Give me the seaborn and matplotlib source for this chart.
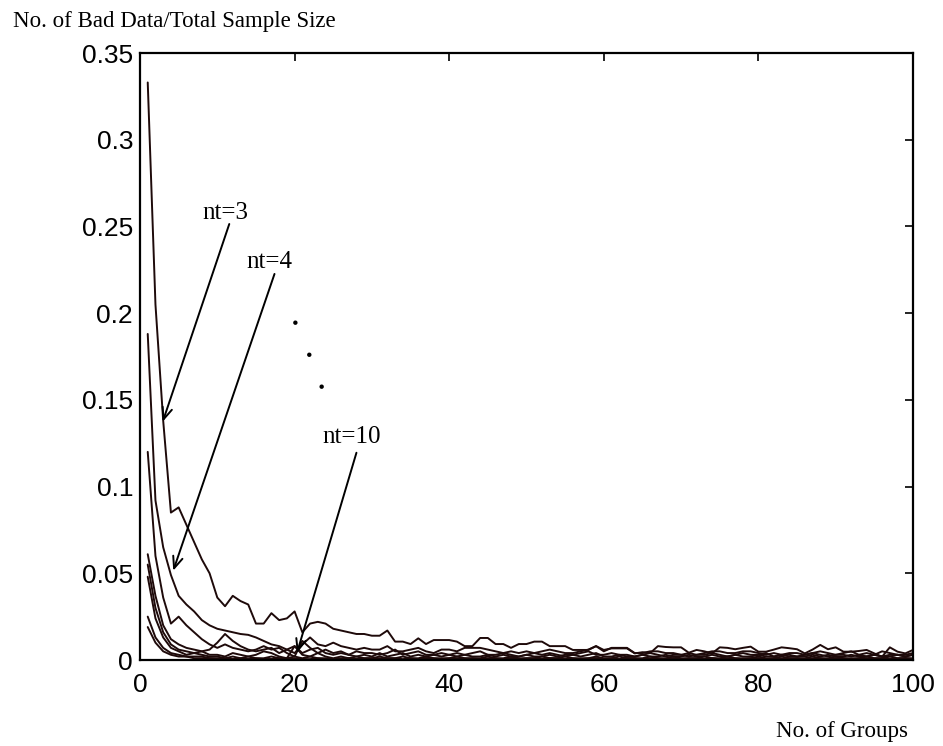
import numpy as np
import pandas as pd
import matplotlib
matplotlib.use('Agg')
import matplotlib.pyplot as plt
import seaborn as sns

# ---------------- data ----------------
groups = list(range(1, 101))
nt_names = ['nt=3', 'nt=4', 'nt=5', 'nt=6', 'nt=7', 'nt=8', 'nt=9', 'nt=10']

nt3 = [.333, .205, .138, .085, .088, .078, .068, .058, .050, .036,
       .031, .037, .034, .032, .021, .021, .027, .023, .024, .028,
       .016, .021, .022, .021, .018, .017, .016, .015, .015, .014,
       .014, .017, .0106, .0106, .0092, .0125, .0092, .0115, .0115, .0115,
       .0106, .008, .008, .0127, .0127, .0092, .0092, .007, .0092, .0092,
       .0106, .0106, .008, .008, .008, .0058, .0058, .0058, .008, .0058,
       .0067, .0067, .0067, .0038, .0045, .004, .008, .0075, .0073, .0073,
       .0042, .0058, .005, .0038, .0073, .007, .0062, .007, .0077, .0048,
       .0048, .006, .0073, .0068, .0062, .0038, .006, .0087, .0062, .0073,
       .0048, .0048, .0052, .0058, .0038, .0019, .0073, .0048, .0038, .0058]

nt4 = [.188, .092, .065, .049, .037, .032, .028, .023, .020, .018,
       .017, .016, .015, .0145, .013, .011, .009, .008, .006, .004,
       .009, .013, .009, .008, .010, .008, .007, .006, .007, .006,
       .006, .008, .005, .005, .006, .007, .005, .004, .006, .006,
       .005, .007, .007, .007, .006, .005, .004, .005, .004, .005,
       .004, .005, .006, .005, .004, .004, .005, .006, .008, .005,
       .007, .007, .007, .004, .004, .005, .005, .004, .004, .003,
       .004, .003, .004, .005, .005, .004, .004, .005, .005, .004,
       .003, .004, .003, .004, .004, .003, .004, .005, .004, .003,
       .004, .005, .003, .002, .003, .005, .004, .003, .003, .004]

nt5 = [.120, .060, .036, .021, .025, .020, .016, .012, .009, .007,
       .009, .007, .006, .005, .006, .008, .006, .007, .004, .002,
       .011, .007, .004, .006, .004, .005, .003, .005, .004, .004,
       .003, .004, .006, .003, .004, .005, .003, .003, .004, .003,
       .004, .003, .004, .005, .003, .003, .004, .003, .002, .003,
       .004, .003, .004, .003, .002, .003, .004, .005, .003, .003,
       .004, .003, .003, .002, .003, .004, .003, .002, .003, .003,
       .002, .003, .003, .004, .003, .002, .003, .004, .003, .003,
       .004, .002, .003, .003, .002, .003, .004, .003, .002, .003,
       .003, .002, .003, .004, .003, .002, .003, .003, .002, .003]

nt6 = [.061, .037, .020, .012, .009, .007, .006, .005, .006, .010,
       .015, .011, .008, .006, .005, .006, .007, .004, .006, .008,
       .004, .006, .007, .004, .003, .004, .003, .002, .003, .002,
       .004, .002, .003, .004, .002, .003, .002, .003, .002, .003,
       .002, .003, .002, .002, .003, .002, .003, .002, .002, .003,
       .002, .002, .003, .002, .003, .003, .002, .003, .004, .002,
       .002, .003, .002, .002, .003, .002, .002, .003, .002, .002,
       .003, .002, .002, .003, .002, .002, .003, .002, .002, .003,
       .002, .002, .003, .002, .002, .002, .003, .002, .003, .002,
       .002, .003, .002, .002, .003, .002, .002, .003, .002, .003]

nt7 = [.055, .030, .016, .009, .006, .005, .004, .005, .003, .003,
       .002, .004, .003, .002, .003, .005, .004, .002, .001, .008,
       .003, .002, .004, .002, .001, .002, .001, .002, .001, .001,
       .002, .001, .001, .002, .001, .001, .002, .001, .001, .001,
       .002, .001, .001, .001, .002, .001, .001, .002, .001, .001,
       .001, .002, .001, .001, .002, .001, .001, .001, .002, .001,
       .001, .002, .001, .001, .001, .002, .001, .001, .002, .001,
       .001, .001, .002, .001, .001, .002, .001, .001, .001, .002,
       .001, .001, .002, .001, .001, .001, .002, .001, .001, .002,
       .001, .001, .001, .002, .001, .001, .002, .001, .001, .001]

nt8 = [.048, .024, .013, .007, .005, .003, .004, .003, .002, .002,
       .001, .002, .001, .002, .001, .001, .002, .001, .001, .002,
       .001, .002, .001, .001, .0005, .001, .001, .0005, .001, .001,
       .0005, .001, .001, .0005, .001, .0005, .001, .001, .0005, .001,
       .001, .0005, .001, .0005, .001, .001, .0005, .001, .0005, .001,
       .001, .0005, .001, .001, .0005, .001, .0005, .001, .001, .0005,
       .001, .0005, .001, .001, .0005, .001, .001, .0005, .001, .0005,
       .001, .001, .0005, .001, .0005, .001, .001, .0005, .001, .001,
       .0005, .001, .001, .0005, .001, .0005, .001, .001, .0005, .001,
       .001, .0005, .001, .0005, .001, .001, .0005, .001, .001, .0005]

nt9 = [.025, .013, .007, .004, .003, .002, .002, .002, .001, .001,
       .001, .0005, .001, .0005, .001, .0005, .0005, .001, .0005, .001,
       .0005, .0005, .001, .0005, .0005, .0005, .001, .0005, .0005, .0005,
       .001, .0005, .0005, .0, .0005, .0005, .001, .0005, .0005, .0005,
       .0005, .001, .0005, .0005, .0, .0005, .0005, .001, .0005, .0005,
       .0005, .0005, .001, .0005, .0005, .0, .0005, .0005, .001, .0005,
       .0005, .0005, .001, .0005, .0005, .0005, .0, .0005, .001, .0005,
       .0005, .0005, .0005, .001, .0005, .0005, .0, .0005, .0005, .001,
       .0005, .0005, .0005, .001, .0005, .0005, .0005, .0, .0005, .001,
       .0005, .0005, .0005, .001, .0005, .0005, .0005, .0005, .001, .0005]

nt10 = [.019, .010, .005, .003, .002, .002, .001, .001, .001, .0005,
        .0005, .0005, .0, .0005, .0, .0005, .0005, .0, .0005, .0,
        .0005, .0, .0005, .0, .0, .0005, .0, .0, .0005, .0,
        .0, .0005, .0, .0, .0005, .0, .0, .0, .0005, .0,
        .0, .0005, .0, .0, .0, .0005, .0, .0, .0005, .0,
        .0, .0, .0005, .0, .0, .0005, .0, .0, .0, .0005,
        .0, .0, .0005, .0, .0, .0, .0005, .0, .0, .0005,
        .0, .0, .0, .0005, .0, .0, .0005, .0, .0, .0,
        .0005, .0, .0, .0005, .0, .0, .0, .0005, .0, .0,
        .0005, .0, .0, .0, .0005, .0, .0, .0005, .0, .0]

series = [nt3, nt4, nt5, nt6, nt7, nt8, nt9, nt10]

x_ticks = [0, 20, 40, 60, 80, 100]
y_ticks = [0, 0.05, 0.1, 0.15, 0.2, 0.25, 0.3, 0.35]
y_tick_labels = ['0', '0.05', '0.1', '0.15', '0.2', '0.25', '0.3', '0.35']

# annotation positions (data coordinates)
labels_txt = ['nt=3', 'nt=4', 'nt=10']
label_xy = [(11.1, 0.258), (16.7, 0.2295), (27.4, 0.1285)]
arrow_from = [(11.55, 0.2514), (17.4, 0.2226), (28.0, 0.1195)]
arrow_to = [(2.94, 0.1374), (4.3, 0.0515), (20.3, 0.004)]
dots_x = [20.1, 21.9, 23.5]
dots_y = [0.1945, 0.176, 0.1576]

# ---------------- plotting ----------------
sns.set_style('white')
plt.rcParams['font.family'] = ['Liberation Sans', 'DejaVu Sans']

LINE = '#1e0a0a'
SERIF = ['Liberation Serif', 'DejaVu Serif']

df = pd.DataFrame({
    'groups': np.tile(groups, len(series)),
    'ratio': np.concatenate([np.asarray(s, dtype=float) for s in series]),
    'nt': np.repeat(nt_names, len(groups)),
})

fig = plt.figure(figsize=(9.43, 7.46), dpi=100)
ax = fig.add_axes([140 / 943, 86 / 746, 773 / 943, 607 / 746])

sns.lineplot(data=df, x='groups', y='ratio', units='nt', estimator=None,
             color=LINE, linewidth=1.4, ax=ax, legend=False)

sns.scatterplot(x=dots_x, y=dots_y, color='black', s=10, edgecolor='none', ax=ax)

for t, (tx, ty), (fx, fy), (px, py) in zip(labels_txt, label_xy, arrow_from, arrow_to):
    ax.text(tx, ty, t, ha='center', va='center', fontsize=18, family=SERIF,
            color='black')
    ax.annotate('', xy=(px, py), xytext=(fx, fy),
                arrowprops=dict(arrowstyle='->,head_length=0.6,head_width=0.25',
                                color='black', lw=1.4, shrinkA=0, shrinkB=0,
                                mutation_scale=14))

ax.set_xlim(0, 100)
ax.set_ylim(0, 0.35)
ax.set_xticks(x_ticks)
ax.set_xticklabels([str(v) for v in x_ticks])
ax.set_yticks(y_ticks)
ax.set_yticklabels(y_tick_labels)
ax.set_xlabel('')
ax.set_ylabel('')

for sp in ax.spines.values():
    sp.set_visible(True)
    sp.set_linewidth(1.6)
    sp.set_color('black')

ax.tick_params(axis='both', direction='in', length=6, width=1.2, color='black',
               top=True, right=True, labeltop=False, labelright=False,
               labelsize=19, labelcolor='black')
ax.tick_params(axis='x', pad=9)
ax.tick_params(axis='y', pad=5)

fig.text(13 / 943, 1 - 22 / 746, 'No. of Bad Data/Total Sample Size',
         ha='left', va='center', fontsize=16.5, family=SERIF, color='black')
fig.text(908 / 943, 1 - 731 / 746, 'No. of Groups',
         ha='right', va='center', fontsize=16.5, family=SERIF, color='black')

fig.savefig('out.png', dpi=100)
